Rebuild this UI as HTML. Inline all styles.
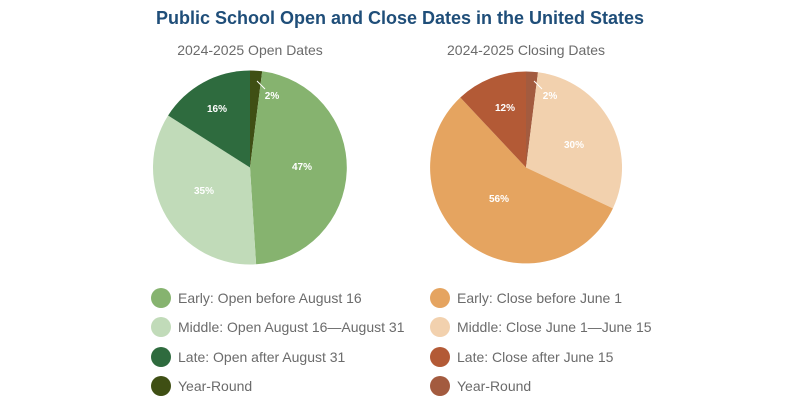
<!DOCTYPE html>
<html><head><meta charset="utf-8"><style>
html,body{margin:0;padding:0;background:#fff;width:800px;height:413px;overflow:hidden}
svg{display:block}
</style></head><body>
<svg width="800" height="413" viewBox="0 0 800 413" font-family="Liberation Sans, sans-serif">
<text x="400" y="24" text-anchor="middle" font-size="18" font-weight="bold" fill="#1f4e79">Public School Open and Close Dates in the United States</text>
<text x="250" y="55" text-anchor="middle" font-size="14" fill="#6b6b6b">2024-2025 Open Dates</text>
<text x="526" y="55" text-anchor="middle" font-size="14" fill="#6b6b6b">2024-2025 Closing Dates</text>

<g>
<path d="M250,167.5 L250,70.5 A97,97 0 0 1 262.2,71.3 Z" fill="#3f4f14"/>
<path d="M250,167.5 L262.2,71.3 A97,97 0 0 1 256.1,264.3 Z" fill="#86b36f"/>
<path d="M250,167.5 L256.1,264.3 A97,97 0 0 1 168.1,115.5 Z" fill="#c1dbb9"/>
<path d="M250,167.5 L168.1,115.5 A97,97 0 0 1 250,70.5 Z" fill="#2e6b3e"/>
<line x1="257" y1="81" x2="265" y2="89" stroke="#fff" stroke-width="1"/>
<g font-size="10" font-weight="bold" fill="#fff" text-anchor="middle">
<text x="272" y="99">2%</text>
<text x="302" y="170">47%</text>
<text x="204" y="194">35%</text>
<text x="217" y="112">16%</text>
</g>
</g>

<g>
<path d="M526,167.5 L526,71.5 A96,96 0 0 1 538,72.3 Z" fill="#a35b3f"/>
<path d="M526,167.5 L538,72.3 A96,96 0 0 1 612.9,208.4 Z" fill="#f2d1ae"/>
<path d="M526,167.5 L612.9,208.4 A96,96 0 1 1 460.3,97.5 Z" fill="#e5a460"/>
<path d="M526,167.5 L460.3,97.5 A96,96 0 0 1 526,71.5 Z" fill="#b35a36"/>
<line x1="534" y1="81" x2="542" y2="89" stroke="#fff" stroke-width="1"/>
<g font-size="10" font-weight="bold" fill="#fff" text-anchor="middle">
<text x="550" y="99">2%</text>
<text x="574" y="148">30%</text>
<text x="499" y="202">56%</text>
<text x="505" y="111">12%</text>
</g>
</g>

<g font-size="14" fill="#6b6b6b">
<circle cx="161" cy="298" r="10" fill="#86b36f"/><text x="178" y="303">Early: Open before August 16</text>
<circle cx="161" cy="327" r="10" fill="#c1dbb9"/><text x="178" y="332">Middle: Open August 16—August 31</text>
<circle cx="161" cy="357" r="10" fill="#2e6b3e"/><text x="178" y="362">Late: Open after August 31</text>
<circle cx="161" cy="386" r="10" fill="#3f4f14"/><text x="178" y="391">Year-Round</text>
<circle cx="440" cy="298" r="10" fill="#e5a460"/><text x="457" y="303">Early: Close before June 1</text>
<circle cx="440" cy="327" r="10" fill="#f2d1ae"/><text x="457" y="332">Middle: Close June 1—June 15</text>
<circle cx="440" cy="357" r="10" fill="#b35a36"/><text x="457" y="362">Late: Close after June 15</text>
<circle cx="440" cy="386" r="10" fill="#a35b3f"/><text x="457" y="391">Year-Round</text>
</g>
</svg>
</body></html>
